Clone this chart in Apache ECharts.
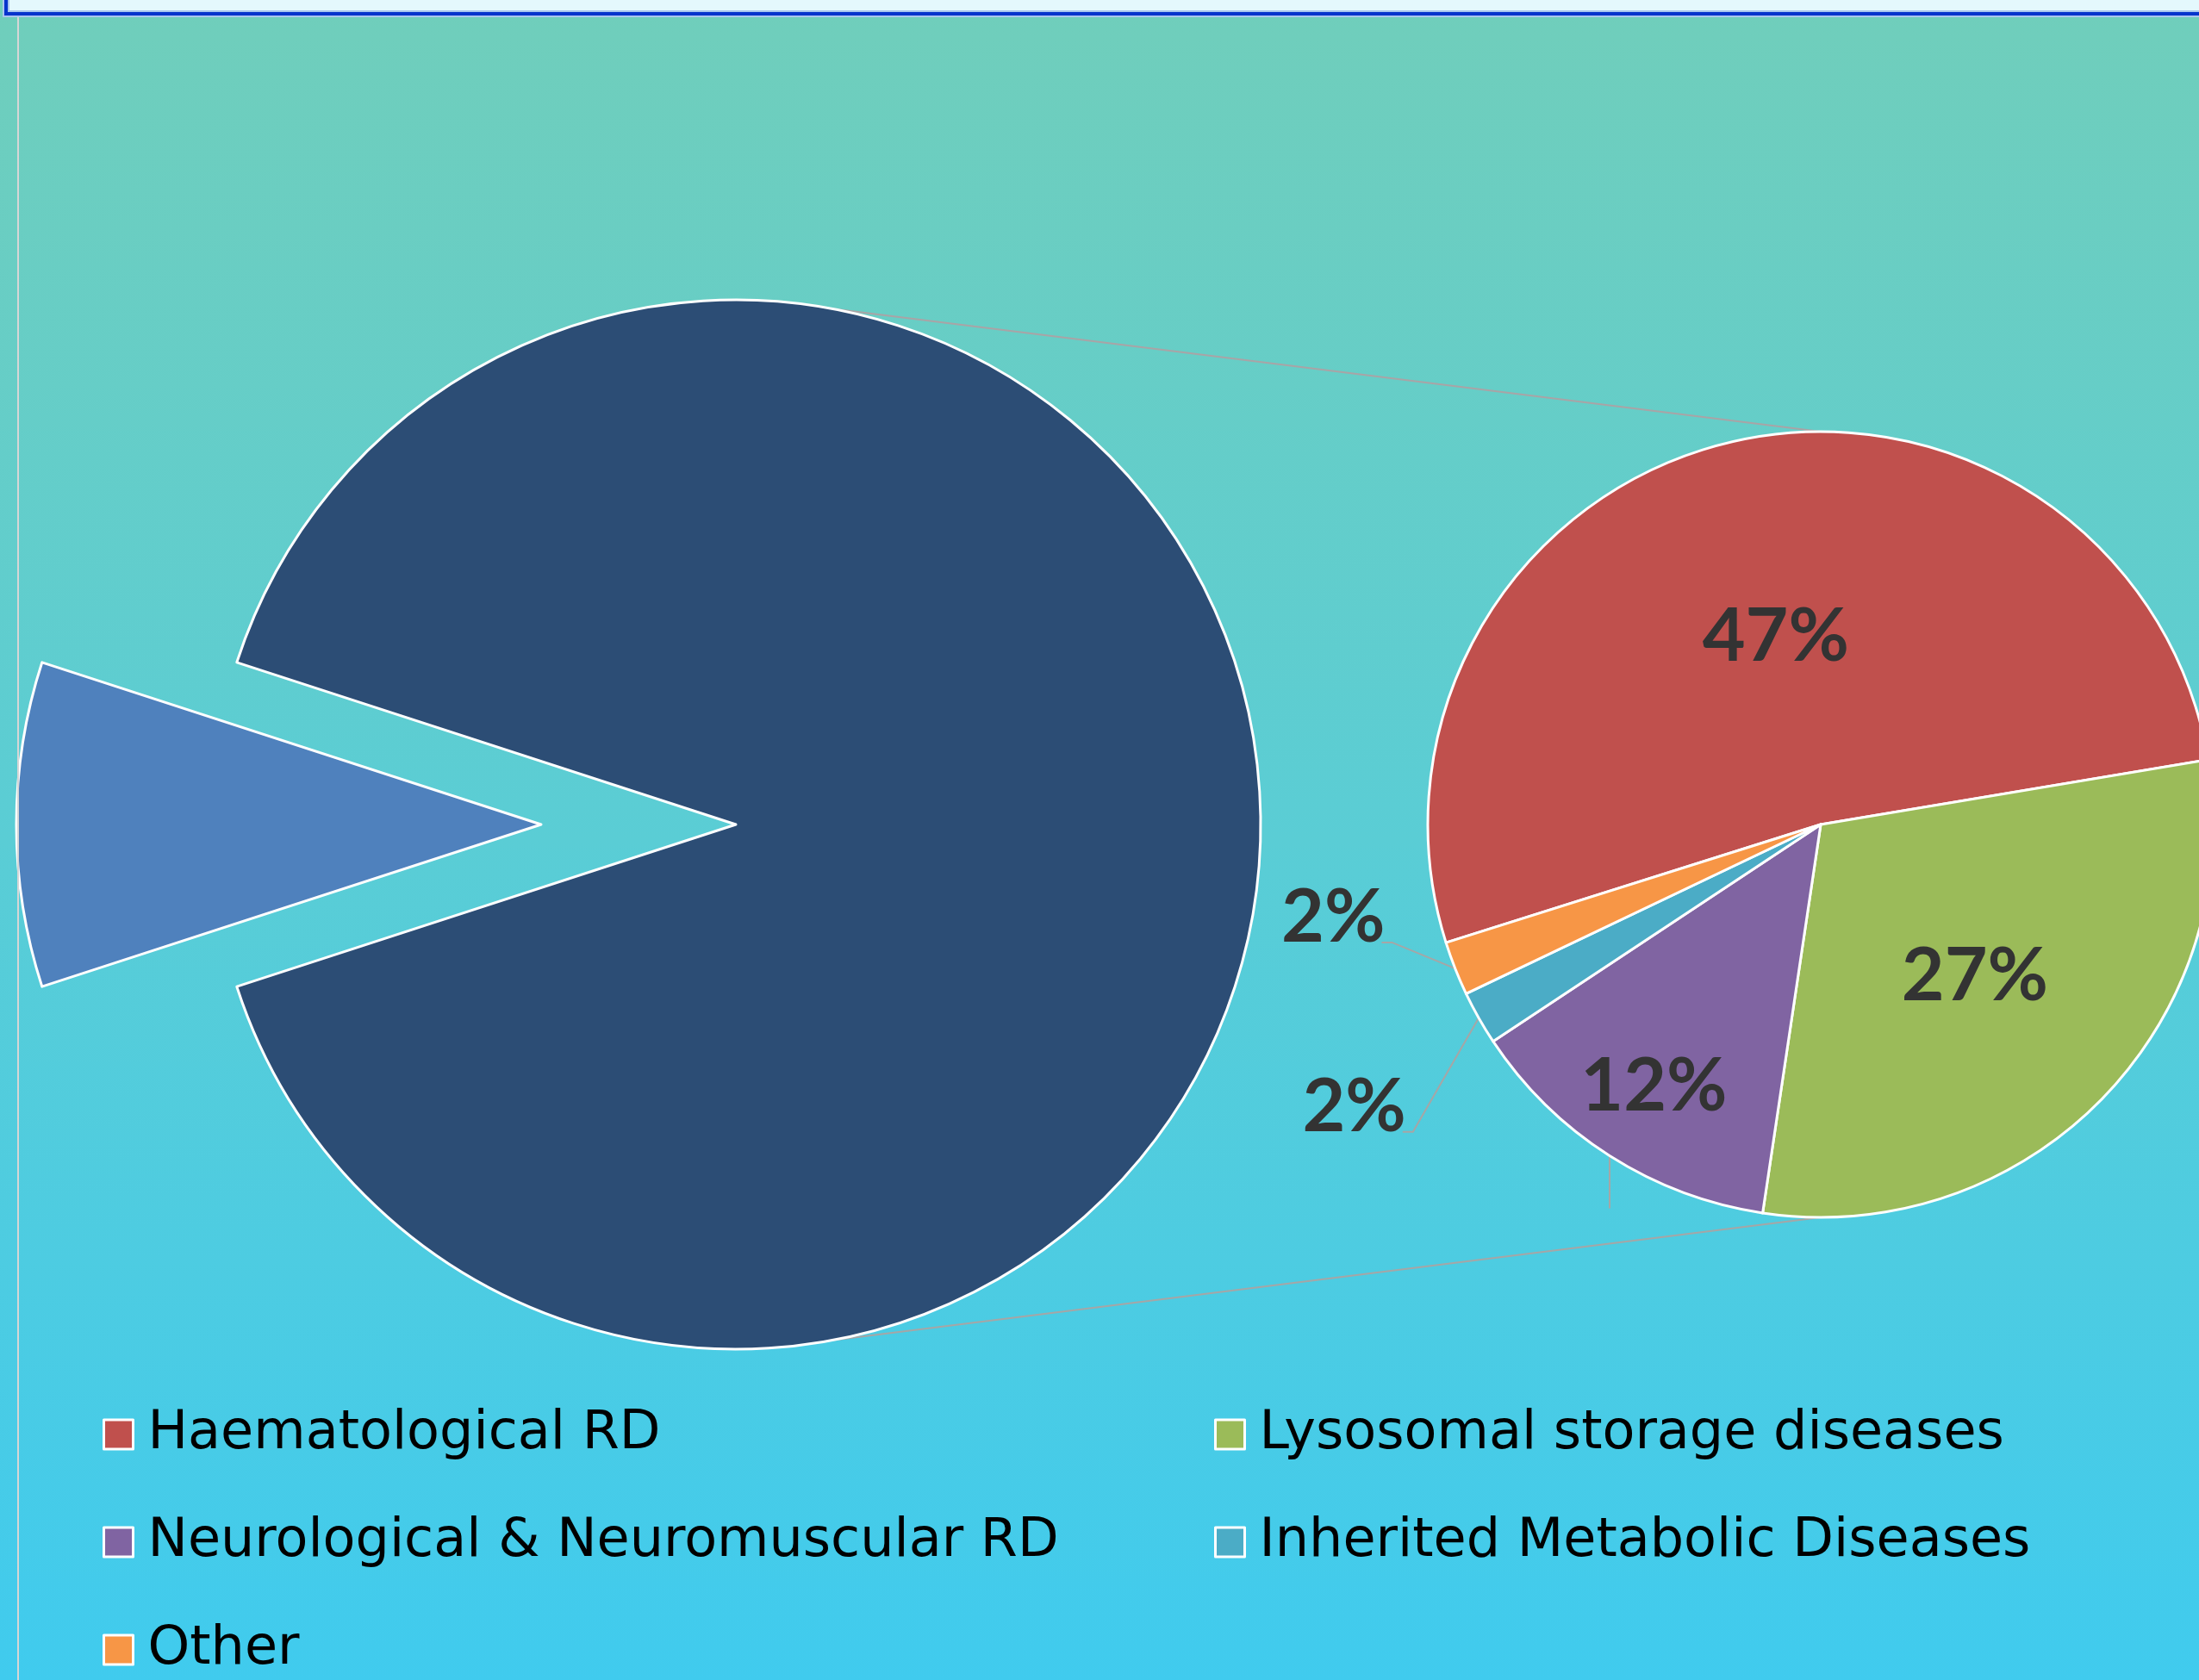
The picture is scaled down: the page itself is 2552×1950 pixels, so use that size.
<!DOCTYPE html>
<html><head><meta charset="utf-8">
<script src="https://cdn.jsdelivr.net/npm/echarts@6/dist/echarts.min.js"></script>
<style>html,body{margin:0;padding:0;overflow:hidden;} #c{width:2552px;height:1950px;}</style>
</head><body><div id="c"></div>
<script>
// ---- data ----
const mainNames = ['Breakdown (right pie)', 'Remaining'];
const mainValues = [90, 10];
const mainColors = ['#2c4d75', '#4f81bd'];
const categories = ['Haematological RD', 'Lysosomal storage diseases', 'Neurological & Neuromuscular RD', 'Inherited Metabolic Diseases', 'Other'];
const values = [47, 27, 12, 2, 2];
const colors = ['#c0504d', '#9bbb59', '#8064a2', '#4bacc6', '#f79646'];
// legend order, row by row (two columns)
const legendOrder = ['Haematological RD', 'Lysosomal storage diseases', 'Neurological & Neuromuscular RD', 'Inherited Metabolic Diseases', 'Other'];

// ---- layout ----
const W = 2552, H = 1950;
const C1 = [854, 957], R1 = 609, start1 = 162;
const C2 = [2113, 957], R2 = 456, start2 = 197.5;
const total2 = values.reduce((a, b) => a + b, 0);
const midAngles = [];
(function () { let acc = 0; values.forEach(v => { midAngles.push(start2 - 360 * (acc + v / 2) / total2); acc += v; }); })();
// label placement: angle (deg) and radius fraction
const labelSpec = [
  { a: null, f: 0.49 },
  { a: null, f: 0.55 },
  { a: null, f: 0.79, line: 'stub' },
  { a: 211.2, f: 1.388, line: 'left' },
  { a: 190.8, f: 1.263, line: 'left' }
];
const rad = d => d * Math.PI / 180;
const arcPt = (c, r, d) => [c[0] + r * Math.cos(rad(d)), c[1] - r * Math.sin(rad(d))];

const FONT = 'Lato, sans-serif';
const LFONT = '"DejaVu Sans", sans-serif';
const chart = echarts.init(document.getElementById('c'), null, { renderer: 'canvas', width: W, height: H });

const connAng = 79.3;
const topA = arcPt(C1, R1, connAng), botA = arcPt(C1, R1, -connAng);
const topB = [C2[0], C2[1] - R2], botB = [C2[0], C2[1] + R2];

const colLeft = [119, 1409];
const rowCenter = 1665, rowPitch = 125;
const legends = legendOrder.map((name, k) => ({
  data: [name], orient: 'horizontal',
  left: colLeft[k % 2], top: rowCenter + Math.floor(k / 2) * rowPitch - 31,
  itemWidth: 34, itemHeight: 34, icon: 'rect', padding: 0, selectedMode: false,
  itemStyle: { borderColor: '#ffffff', borderWidth: 3 },
  textStyle: { fontSize: 62, fontFamily: LFONT, color: '#000', lineHeight: 62, padding: [0, 0, 0, 12] }
}));

chart.setOption({
  animation: false,
  backgroundColor: 'transparent',
  graphic: [
    { type: 'rect', z: -100, shape: { x: 0, y: 0, width: W, height: H },
      style: { fill: new echarts.graphic.LinearGradient(0, 0, 0, 1, [{ offset: 0, color: '#70cebb' }, { offset: 0.5, color: '#5acdd5' }, { offset: 1, color: '#40cbee' }]) } },
    { type: 'rect', z: 50, shape: { x: 7, y: -40, width: W + 40, height: 56 },
      style: { fill: '#e4f8fd', stroke: '#a9c6ee', lineWidth: 8 } },
    { type: 'rect', z: 51, shape: { x: 7, y: -40, width: W + 40, height: 56 },
      style: { fill: 'transparent', stroke: '#0634cc', lineWidth: 4 } },
    { type: 'line', z: 50, shape: { x1: 21, y1: 20, x2: 21, y2: H }, style: { stroke: '#d6d6d6', lineWidth: 2 } },
    { type: 'line', z: 1, shape: { x1: topA[0], y1: topA[1], x2: topB[0], y2: topB[1] }, style: { stroke: '#a9a4a6', lineWidth: 2 } },
    { type: 'line', z: 1, shape: { x1: botA[0], y1: botA[1], x2: botB[0], y2: botB[1] }, style: { stroke: '#a6a6a6', lineWidth: 2 } }
  ],
  legend: legends,
  series: [
    {
      type: 'pie', name: 'main', center: C1, radius: R1, startAngle: start1, clockwise: true,
      selectedMode: 'single', selectedOffset: 226, avoidLabelOverlap: false,
      emphasis: { disabled: true },
      label: { show: false }, labelLine: { show: false },
      itemStyle: { borderColor: '#ffffff', borderWidth: 3 },
      data: mainNames.map((n, i) => ({ name: n, value: mainValues[i], selected: i === 1, itemStyle: { color: mainColors[i] } }))
    },
    {
      type: 'pie', name: 'detail', center: C2, radius: R2, startAngle: start2, clockwise: true,
      avoidLabelOverlap: false, emphasis: { disabled: true },
      itemStyle: { borderColor: '#ffffff', borderWidth: 3 },
      label: {
        show: true, position: 'outside', formatter: '{c}%', color: '#333333',
        fontSize: 86, fontWeight: 'bold', fontFamily: FONT
      },
      labelLine: { show: true, lineStyle: { color: '#a6a6a6', width: 2 } },
      labelLayout: function (p) {
        const i = p.dataIndex, s = labelSpec[i];
        const ang = s.a == null ? midAngles[i] : s.a;
        const pos = arcPt(C2, R2 * s.f, ang);
        const out = { x: pos[0], y: pos[1], align: 'center', verticalAlign: 'middle' };
        const anchor = arcPt(C2, R2, midAngles[i]);
        const hw = p.labelRect.width / 2;
        if (s.line === 'left') {
          const right = pos[0] + hw - 8;
          out.labelLinePoints = [anchor, [right + 16, pos[1] + 29], [right + 4, pos[1] + 29]];
        } else if (s.line === 'stub') {
          out.labelLinePoints = [anchor, [anchor[0], anchor[1] + 61], [anchor[0], anchor[1] + 61]];
        } else {
          out.labelLinePoints = [pos, pos, pos];
        }
        return out;
      },
      data: categories.map((n, i) => ({
        name: n, value: values[i], itemStyle: { color: colors[i] },
        labelLine: { show: labelSpec[i].line != null }
      }))
    }
  ]
});
</script>
</body></html>
